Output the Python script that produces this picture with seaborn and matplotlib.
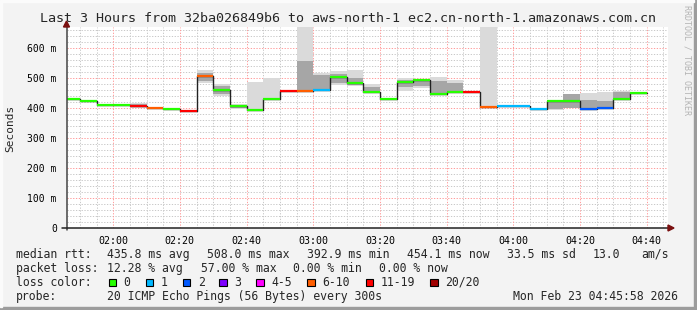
import numpy as np
import pandas as pd
import seaborn as sns
import matplotlib
matplotlib.use("Agg")
import matplotlib.pyplot as plt
from matplotlib.patches import Rectangle, Polygon
from matplotlib.ticker import FixedLocator, MultipleLocator

# ---------------- data ----------------
title = "Last 3 Hours from 32ba026849b6 to aws-north-1 ec2.cn-north-1.amazonaws.com.cn"
slot_start = pd.date_range("2026-02-23 01:45", periods=35, freq="5min")
median = [430, 424, 410, 410, 408, 401, 397, 391, 507, 460, 407, 392, 431, 458,
          458, 461, 504, 484, 454, 430, 488, 492, 448, 452, 455, 404, 406, 406,
          397, 424, 424, 398, 400, 431, 451]
loss_bucket = [0, 0, 0, 0, 6, 5, 0, 6, 5, 0, 0, 0, 0, 6, 5, 1, 0, 0, 0, 0, 0, 0,
               0, 0, 6, 5, 1, 1, 1, 0, 0, 2, 2, 0, 0]
nan = np.nan
smoke_lo = [nan, nan, nan, nan, 399, nan, nan, nan, 482, 440, 397, 393, 427, nan,
            458, 458, 477, 474, 454, nan, 458, 466, 448, 449, nan, 404, 403, nan,
            nan, 395, 399, 398, 400, 431, nan]
smoke_hi = [nan, nan, nan, nan, 418, nan, nan, nan, 527, 480, 414, 486, 499, nan,
            670, 518, 523, 527, 480, nan, 499, 493, 504, 493, nan, 670, 410, nan,
            nan, 424, 447, 449, 454, 457, nan]
core_lo = [nan, nan, nan, nan, 403, nan, nan, nan, 490, 448, 400, nan, nan, nan,
           458, 461, 485, 478, 454, nan, 470, 475, 448, 452, nan, nan, nan, nan,
           nan, 397, 400, 398, 400, 433, nan]
core_hi = [nan, nan, nan, nan, 414, nan, nan, nan, 518, 472, 411, nan, nan, nan,
           557, 510, 515, 500, 470, nan, 494, 492, 490, 483, nan, nan, nan, nan,
           nan, 424, 446, 428, 425, 452, nan]

loss_labels = ["0", "1", "2", "3", "4-5", "6-10", "11-19", "20/20"]
loss_colors = ["#26ff00", "#00b8ff", "#0059ff", "#7e00ff", "#ff00ff",
               "#ff5e00", "#ff0000", "#a10000"]
y_ticks = [0, 100, 200, 300, 400, 500, 600]
y_tick_labels = ["0", "100 m", "200 m", "300 m", "400 m", "500 m", "600 m"]
x_tick_labels = ["02:00", "02:20", "02:40", "03:00", "03:20", "03:40",
                 "04:00", "04:20", "04:40"]

stats_rtt = ["435.8 ms avg", "508.0 ms max", "392.9 ms min", "454.1 ms now",
             "33.5 ms sd", "13.0", "am/s"]
stats_loss = ["12.28 % avg", "57.00 % max", "0.00 % min", "0.00 % now"]
probe_text = "20 ICMP Echo Pings (56 Bytes) every 300s"
date_text = "Mon Feb 23 04:45:58 2026"

# ---------------- layout ----------------
W, H = 697, 310
MONO = "DejaVu Sans Mono"
sns.set_style("white")
plt.rcParams["font.family"] = [MONO]

fig = plt.figure(figsize=(W / 100, H / 100), dpi=100)
fig.patch.set_facecolor("#f3f3f3")

def fx(px):
    return px / W

def fy(py):
    return 1 - py / H

ax_l, ax_r, ax_t, ax_b = 66.5, 668.0, 27.0, 228.0
ax = fig.add_axes([fx(ax_l), fy(ax_b), fx(ax_r - ax_l), (ax_b - ax_t) / H])
ax.set_facecolor("white")

mins = np.array([(t.hour * 60 + t.minute) for t in slot_start], dtype=float)
x0_lim, x1_lim = 106.0, 286.4
ax.set_xlim(x0_lim, x1_lim)
ax.set_ylim(0, 670)

# grid
minor_c = "#c8c8c8"
major_c = "#ff9a9a"
for v in np.arange(20, 670, 20):
    if v % 100 != 0:
        ax.axhline(v, color=minor_c, lw=0.7, ls=(0, (1.3, 1.6)), zorder=0)
for m in np.arange(110, 287, 5):
    if m % 20 != 0:
        ax.axvline(m, color=minor_c, lw=0.7, ls=(0, (1.3, 1.6)), zorder=0)
for v in y_ticks[1:]:
    ax.axhline(v, color=major_c, lw=0.7, ls=(0, (1.3, 1.6)), zorder=0.5)
for m in np.arange(120, 287, 20):
    ax.axvline(m, color=major_c, lw=0.7, ls=(0, (1.3, 1.6)), zorder=0.5)

# smoke
w = 5.0
ol = np.array(smoke_lo, float); oh = np.array(smoke_hi, float)
cl = np.array(core_lo, float); ch = np.array(core_hi, float)
mask = ~np.isnan(ol)
ax.bar(mins[mask], oh[mask] - ol[mask], bottom=ol[mask], width=w, align="edge",
       color="#dadada", linewidth=0, zorder=1)
mask = ~np.isnan(cl)
ax.bar(mins[mask], ch[mask] - cl[mask], bottom=cl[mask], width=w, align="edge",
       color="#a6a6a6", linewidth=0, zorder=1.2)

# median step line (connectors)
xs = list(mins) + [mins[-1] + w]
ys = list(median) + [median[-1]]
df = pd.DataFrame({"t": xs, "rtt": ys})
sns.lineplot(data=df, x="t", y="rtt", drawstyle="steps-post", color="#222222",
             lw=1.0, estimator=None, ax=ax, zorder=2, legend=False)
# colored median segments
for s, v, b in zip(mins, median, loss_bucket):
    ax.hlines(v, max(s, x0_lim), s + w, color=loss_colors[b], lw=1.6, zorder=3)

for sp in ax.spines.values():
    sp.set_visible(False)

ax.set_xlabel("")
ax.set_ylabel("")
ax.yaxis.set_major_locator(FixedLocator(y_ticks))
ax.set_yticklabels(y_tick_labels, fontsize=7.0, family=MONO)
ax.yaxis.set_minor_locator(MultipleLocator(20))
ax.xaxis.set_major_locator(FixedLocator(np.arange(120, 287, 20)))
ax.set_xticklabels(x_tick_labels, fontsize=7.2, family=MONO)
ax.xaxis.set_minor_locator(MultipleLocator(5))
ax.tick_params(axis="both", which="major", length=3, width=0.7, color="#555555",
               pad=4, labelcolor="black")
ax.tick_params(axis="both", which="minor", length=2, width=0.7, color="#555555")
ax.tick_params(axis="x", pad=3)

# axis lines with arrow heads
ax.plot([0, 0], [-0.01, 1.0], transform=ax.transAxes, color="#444444", lw=1.1,
        clip_on=False, zorder=5)
ax.plot([-0.007, 1.0], [0, 0], transform=ax.transAxes, color="#222222", lw=1.1,
        clip_on=False, zorder=5)
fig.patches.append(Polygon([[fx(63.5), fy(27)], [fx(69.5), fy(27)], [fx(66.5), fy(21)]],
                           closed=True, transform=fig.transFigure, color="#7a1010"))
fig.patches.append(Polygon([[fx(668), fy(225)], [fx(668), fy(231)], [fx(674), fy(228)]],
                           closed=True, transform=fig.transFigure, color="#7a1010"))

# title and labels
fig.text(fx(348), fy(18), title, ha="center", va="center", fontsize=9.6, family=MONO)
fig.text(fx(10), fy(128), "Seconds", rotation=90, ha="center", va="center",
         fontsize=8.0, family=MONO)
fig.text(fx(687), fy(5), "RRDTOOL / TOBI OETIKER", rotation=-90, ha="center",
         va="top", fontsize=6.0, family=MONO, color="#b4b4b4")

# legend text
fs = 8.3
r1, r2, r3, r4 = 254.3, 268.3, 282.3, 296.5
fig.text(fx(16), fy(r1), "median rtt:", fontsize=fs, va="center", family=MONO)
for xpx, t in zip([107.3, 207.3, 307.3, 407.3, 507.3, 592.7, 641.0], stats_rtt):
    fig.text(fx(xpx), fy(r1), t, fontsize=fs, va="center", family=MONO)
fig.text(fx(16), fy(r2), "packet loss:", fontsize=fs, va="center", family=MONO)
for xpx, t in zip([107.3, 201.0, 293.3, 379.3], stats_loss):
    fig.text(fx(xpx), fy(r2), t, fontsize=fs, va="center", family=MONO)
fig.text(fx(16), fy(r3), "loss color:", fontsize=fs, va="center", family=MONO)
box_x = [108.7, 145.7, 182.7, 219.3, 256.0, 307.3, 365.7, 430.3]
for bx, lab, col in zip(box_x, loss_labels, loss_colors):
    fig.patches.append(Rectangle((fx(bx), fy(r3 + 3.8)), fx(7.5), 7.5 / H,
                                 transform=fig.transFigure, facecolor=col,
                                 edgecolor="black", lw=0.8))
    fig.text(fx(bx + 15), fy(r3), lab, fontsize=fs, va="center", family=MONO)
fig.text(fx(16), fy(r4), "probe:", fontsize=fs, va="center", family=MONO)
fig.text(fx(107.3), fy(r4), probe_text, fontsize=fs, va="center", family=MONO)
fig.text(fx(512.7), fy(r4), date_text, fontsize=fs, va="center", family=MONO)

# 3D frame
fig.patches.append(Rectangle((0, 0), 1, 3 / H, transform=fig.transFigure,
                             color="#9c9c9c", zorder=10))
fig.patches.append(Rectangle((1 - 3 / W, 0), 3 / W, 1, transform=fig.transFigure,
                             color="#9c9c9c", zorder=10))
fig.patches.append(Rectangle((0, 1 - 2 / H), 1 - 3 / W, 2 / H, transform=fig.transFigure,
                             color="#fbfbfb", zorder=10))
fig.patches.append(Rectangle((0, 3 / H), 2 / W, 1 - 3 / H, transform=fig.transFigure,
                             color="#fbfbfb", zorder=10))

fig.savefig("out.png", dpi=100, facecolor=fig.get_facecolor())
